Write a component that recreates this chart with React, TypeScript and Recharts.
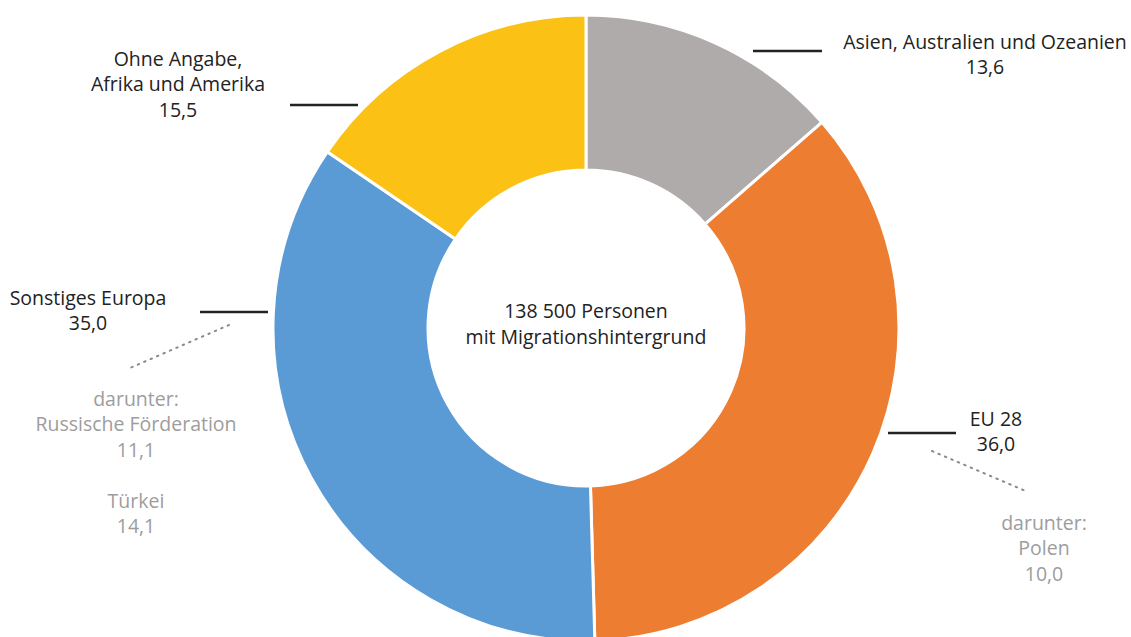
import { PieChart, Pie, Cell } from 'recharts';

const categories = ['Asien, Australien und Ozeanien', 'EU 28', 'Sonstiges Europa', 'Ohne Angabe,\nAfrika und Amerika'];
const values = [13.6, 36.0, 35.0, 15.5];
const colors = ['#AFABAA', '#ED7D31', '#5B9BD5', '#FBC115'];
const subLabels = [
  [],
  ['darunter:', 'Polen', '10,0'],
  ['darunter:', 'Russische Förderation', '11,1', '', 'Türkei', '14,1'],
  [],
];
const centerText = ['138 500 Personen', 'mit Migrationshintergrund'];

const W = 1131;
const H = 637;
const CX = 586;
const CY = 328;
const FONT = '"Open Sans", "Noto Sans", sans-serif';
const FS = 19.5;
const LINE_H = 25.5;

// label placement relative to the pie centre (layout only)
const layout = [
  { tx: 399, ty: 41, line: [167, 236, -277], dot: null, sx: 0, sy: 0 },
  { tx: 410, ty: 418, line: [302, 370, 105], dot: [346, 123, 442, 164], sx: 458, sy: 522 },
  { tx: -498, ty: 297, line: [-386, -318, -16], dot: [-357, -3, -456, 40], sx: -450, sy: 398 },
  { tx: -408, ty: 58, line: [-296, -228, -223], dot: null, sx: 0, sy: 0 },
];

const data = categories.map((name, i) => ({ name, value: values[i] }));

const fmt = (v: number) => v.toFixed(1).replace('.', ',');

function renderLabel(props: any) {
  const { index, cx, cy, value } = props;
  const l = layout[index];
  const lines = [...categories[index].split('\n'), fmt(value)];
  return (
    <g key={`lbl-${index}`}>
      <line
        x1={cx + l.line[0]}
        x2={cx + l.line[1]}
        y1={cy + l.line[2]}
        y2={cy + l.line[2]}
        stroke="#222"
        strokeWidth={2.5}
      />
      {l.dot && (
        <line
          x1={cx + l.dot[0]}
          y1={cy + l.dot[1]}
          x2={cx + l.dot[2]}
          y2={cy + l.dot[3]}
          stroke="#8a8a8a"
          strokeWidth={2}
          strokeDasharray="1.5 5.5"
          strokeLinecap="round"
        />
      )}
      {lines.map((t, j) => (
        <text
          key={j}
          x={cx + l.tx}
          y={cy - CY + l.ty + j * LINE_H}
          textAnchor="middle"
          dominantBaseline="central"
          fontFamily={FONT}
          fontSize={FS}
          fill="#222"
        >
          {t}
        </text>
      ))}
      {subLabels[index].map((t, j) => (
        <text
          key={`s${j}`}
          x={cx + l.sx}
          y={cy - CY + l.sy + j * LINE_H}
          textAnchor="middle"
          dominantBaseline="central"
          fontFamily={FONT}
          fontSize={FS}
          fill="#9d9d9d"
        >
          {t}
        </text>
      ))}
    </g>
  );
}

export default function App() {
  return (
    <div style={{ width: W, height: H, background: '#fff' }}>
      <style>{'body{margin:0}'}</style>
      <PieChart width={W} height={H} margin={{ top: 0, right: 0, bottom: 0, left: 0 }}>
        <Pie
          data={data}
          dataKey="value"
          cx={CX}
          cy={CY}
          innerRadius={158}
          outerRadius={313}
          startAngle={90}
          endAngle={-270}
          stroke="#fff"
          strokeWidth={3}
          label={renderLabel}
          labelLine={false}
          isAnimationActive={false}
        >
          {data.map((d, i) => (
            <Cell key={d.name} fill={colors[i]} />
          ))}
        </Pie>
        {centerText.map((t, j) => (
          <text
            key={t}
            x={CX}
            y={310 + j * 26}
            textAnchor="middle"
            dominantBaseline="central"
            fontFamily={FONT}
            fontSize={FS}
            fill="#222"
          >
            {t}
          </text>
        ))}
      </PieChart>
    </div>
  );
}
